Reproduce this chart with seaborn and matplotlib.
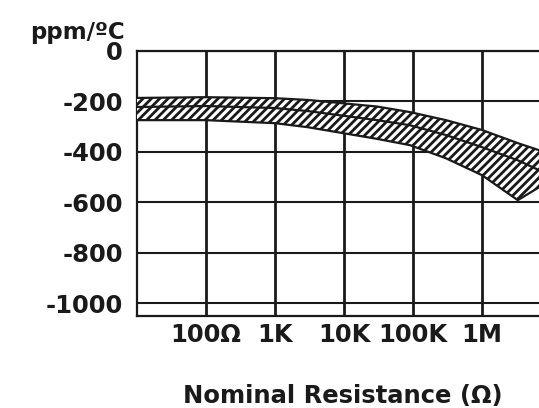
"""TCR vs nominal resistance chart (hatched band)."""
import seaborn as sns
import matplotlib.pyplot as plt
import pandas as pd

# Data (ohms, ppm/°C)
resistance = [10, 100, 1e3, 3e3, 3e4, 9e4, 3e5, 1e6, 3.3e6, 6.7e6]
tcr_top = [-186, -183, -187, -194, -220, -242, -274, -313, -365, -393]
tcr_mid = [-222, -218, -226, -238, -274, -294, -333, -381, -433, -472]
tcr_bottom = [-274, -274, -286, -302, -348, -373, -425, -492, -591, -540]

x_ticks = [1e2, 1e3, 1e4, 1e5, 1e6]
x_labels = ["100Ω", "1K", "10K", "100K", "1M"]
y_ticks = [0, -200, -400, -600, -800, -1000]

df = pd.DataFrame({"R": resistance, "top": tcr_top, "mid": tcr_mid,
                   "bottom": tcr_bottom})

sns.set_theme(style="white")
plt.rcParams["font.family"] = ["DejaVu Sans"]
plt.rcParams["axes.unicode_minus"] = False
plt.rcParams["hatch.linewidth"] = 2.0

fig = plt.figure(figsize=(5.39, 4.08), dpi=100)
ax = fig.add_axes([137 / 539, 92 / 408, (551 - 137) / 539, 265 / 408])

# hatched bands
ax.fill_between(df["R"], df["top"], df["mid"], facecolor="white",
                edgecolor="#1a1a1a", hatch="////", linewidth=0, zorder=3)
ax.fill_between(df["R"], df["mid"], df["bottom"], facecolor="white",
                edgecolor="#1a1a1a", hatch="////", linewidth=0, zorder=3)
for col in ["top", "mid", "bottom"]:
    sns.lineplot(data=df, x="R", y=col, ax=ax, color="#1a1a1a",
                 linewidth=1.6, zorder=4)

ax.set_xscale("log")
ax.set_xlim(10, 1e7)
ax.set_ylim(-1050, 0)
ax.set_xticks(x_ticks)
ax.set_xticklabels(x_labels)
ax.set_yticks(y_ticks)
ax.minorticks_off()
ax.set_xlabel("")
ax.set_ylabel("")

ax.grid(True, color="#1a1a1a", linewidth=1.5)
ax.grid(True, axis="x", color="#1a1a1a", linewidth=2.0)
ax.set_axisbelow(True)
for side in ["left", "top", "bottom"]:
    ax.spines[side].set_color("#1a1a1a")
    ax.spines[side].set_linewidth(1.6)
ax.spines["right"].set_visible(False)

ax.tick_params(axis="both", length=0, labelsize=17.5, labelcolor="#1a1a1a")
ax.tick_params(axis="y", pad=10)
ax.tick_params(axis="x", pad=5)
for lbl in ax.get_xticklabels() + ax.get_yticklabels():
    lbl.set_fontweight("bold")

fig.text(125 / 539, 1 - 32 / 408, "ppm/ºC", ha="right", va="center",
         fontsize=16.5, fontweight="bold", color="#1a1a1a")
fig.text(343 / 539, 12 / 408, "Nominal Resistance (Ω)", ha="center",
         va="center", fontsize=17.5, fontweight="bold", color="#1a1a1a")

fig.savefig("out.png", dpi=100, facecolor="white")
plt.close(fig)
